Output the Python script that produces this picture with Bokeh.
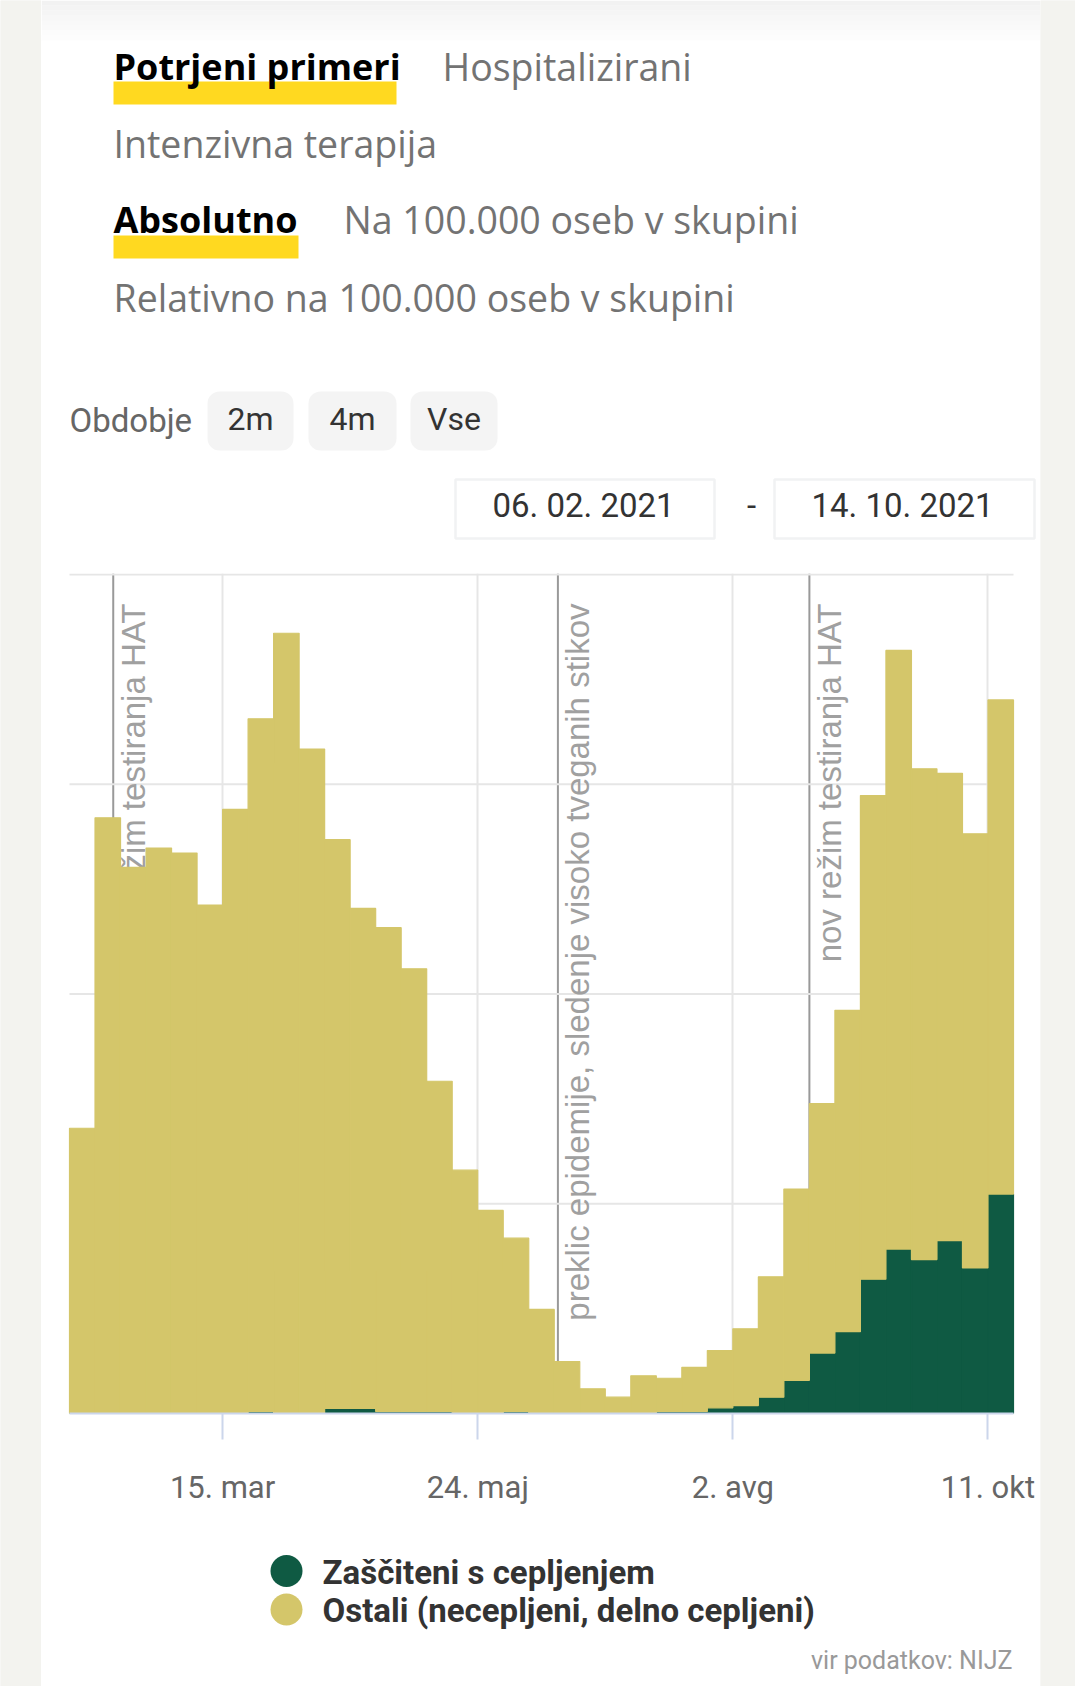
import pandas as pd
from math import pi
from bokeh.plotting import figure
from bokeh.layouts import row, column
from bokeh.models import (Range1d, FixedTicker, CustomJSTickFormatter, Grid, Span,
                          BoxAnnotation, ColumnDataSource)
from bokeh.core.properties import value
from bokeh.embed import file_html
from bokeh.resources import INLINE

# ---------------- data ----------------
week_starts = ["2021-02-01", "2021-02-08", "2021-02-15", "2021-02-22", "2021-03-01",
               "2021-03-08", "2021-03-15", "2021-03-22", "2021-03-29", "2021-04-05",
               "2021-04-12", "2021-04-19", "2021-04-26", "2021-05-03", "2021-05-10",
               "2021-05-17", "2021-05-24", "2021-05-31", "2021-06-07", "2021-06-14",
               "2021-06-21", "2021-06-28", "2021-07-05", "2021-07-12", "2021-07-19",
               "2021-07-26", "2021-08-02", "2021-08-09", "2021-08-16", "2021-08-23",
               "2021-08-30", "2021-09-06", "2021-09-13", "2021-09-20", "2021-09-27",
               "2021-10-04", "2021-10-11"]
zasciteni = [0, 0, 0, 0, 0, 0, 0, 25, 0, 0,
             60, 60, 25, 25, 25, 0, 0, 25, 0, 0,
             0, 0, 0, 25, 25, 68, 95, 195, 395, 720,
             975, 1600, 1960, 1835, 2060, 1735, 2615]
ostali = [3400, 7100, 6510, 6740, 6680, 6060, 7200, 8255, 9300, 7920,
          6780, 5960, 5765, 5275, 3935, 2900, 2420, 2065, 1240, 620,
          295, 195, 450, 395, 525, 682, 915, 1435, 2280, 2975,
          3830, 5765, 7135, 5850, 5570, 5175, 5890]
series_names = ["Zaščiteni s cepljenjem", "Ostali (necepljeni, delno cepljeni)"]

range_start = "2021-02-01"
range_end = "2021-10-18"
tick_dates = ["2021-03-15", "2021-05-24", "2021-08-02", "2021-10-11"]
tick_labels = ["15. mar", "24. maj", "2. avg", "11. okt"]
y_ticks = [0, 2500, 5000, 7500, 10000]
y_top = 10000

event_dates = ["2021-02-13", "2021-06-15", "2021-08-23"]
event_labels = ["nov režim testiranja HAT",
                "preklic epidemije, sledenje visoko tveganih stikov",
                "nov režim testiranja HAT"]

tabs_row1 = ["Potrjeni primeri", "Hospitalizirani"]
tabs_row2 = ["Intenzivna terapija"]
tabs_row3 = ["Absolutno", "Na 100.000 oseb v skupini"]
tabs_row4 = ["Relativno na 100.000 oseb v skupini"]
period_label = "Obdobje"
period_buttons = ["2m", "4m", "Vse"]
date_from = "06. 02. 2021"
date_to = "14. 10. 2021"
source_text = "vir podatkov: NIJZ"

# ---------------- style ----------------
GREEN = "#0f5a43"
YELLOW = "#d4c66a"
TAB_YELLOW = "#ffd920"
PAGE_GRAY = "#f3f3ef"
TAB_GRAY = "#737373"
GRID_GRAY = "#e6e6e6"
HEAD_FONT = value("Open Sans")
UI_FONT = value("Roboto")

DAY = 86400000.0
CARD_W = 999
PAD_L, PAD_R = 28, 27          # white space (px) between card edge and the data area


def ms(s):
    return pd.Timestamp(s).value / 1e6


def page_fig(h, y0):
    f = figure(width=CARD_W, height=h, x_range=Range1d(41, 1040),
               y_range=Range1d(y0 + h, y0),
               toolbar_location=None, output_backend="svg",
               x_axis_location=None, y_axis_location=None, min_border=0)
    f.outline_line_color = None
    f.grid.visible = False
    f.background_fill_color = "white"
    f.border_fill_color = "white"
    return f


# ---------------- header ----------------
head = page_fig(540, 0)
for i in range(8):
    head.add_layout(BoxAnnotation(left=41, right=1040, top=5 * i, bottom=5 * i + 5,
                                  fill_color="#efefef", fill_alpha=0.8 - i * 0.1,
                                  line_color=None, level="underlay"))

head.quad(left=[113, 113], right=[396, 298], top=[81, 235], bottom=[104, 258],
          fill_color=TAB_YELLOW, line_color=None)

head.text(x=[113], y=[65.5], text=[tabs_row1[0]], text_font=HEAD_FONT, text_font_style="bold",
          text_font_size="36px", text_color="#000000", text_baseline="alphabetic")
head.text(x=[442], y=[65.5], text=[tabs_row1[1]], text_font=HEAD_FONT,
          text_font_size="37.5px", text_color=TAB_GRAY, text_baseline="alphabetic")
head.text(x=[113], y=[143], text=[tabs_row2[0]], text_font=HEAD_FONT,
          text_font_size="37.5px", text_color=TAB_GRAY, text_baseline="alphabetic")
head.text(x=[113], y=[219], text=[tabs_row3[0]], text_font=HEAD_FONT, text_font_style="bold",
          text_font_size="36px", text_color="#000000", text_baseline="alphabetic")
head.text(x=[343], y=[219], text=[tabs_row3[1]], text_font=HEAD_FONT,
          text_font_size="37.5px", text_color=TAB_GRAY, text_baseline="alphabetic")
head.text(x=[113], y=[296.5], text=[tabs_row4[0]], text_font=HEAD_FONT,
          text_font_size="37.5px", text_color=TAB_GRAY, text_baseline="alphabetic")

# period buttons
head.text(x=[69], y=[419.5], text=[period_label], text_font=UI_FONT, text_font_size="33px",
          text_color="#666666", text_baseline="alphabetic")
btn_left = [207, 308, 410]
btn_right = [293, 396, 497]
for l, r in zip(btn_left, btn_right):
    head.add_layout(BoxAnnotation(left=l, right=r, top=391, bottom=450, fill_color="#f4f4f4",
                                  fill_alpha=1.0, line_color=None, border_radius=12,
                                  level="underlay"))
head.text(x=[(l + r) / 2 for l, r in zip(btn_left, btn_right)], y=[418] * 3, text=period_buttons,
          text_font=UI_FONT, text_font_size="32px", text_color="#333333",
          text_align="center", text_baseline="alphabetic")

# date boxes
for l, r in [(455, 714), (774, 1034)]:
    head.add_layout(BoxAnnotation(left=l, right=r, top=479, bottom=538, fill_color="white",
                                  fill_alpha=1.0, line_color="#cfd3d7", line_width=2.5,
                                  level="underlay"))
head.text(x=[583, 902], y=[504.5, 504.5], text=[date_from, date_to], text_font=UI_FONT,
          text_font_size="33px", text_color="#333333", text_align="center",
          text_baseline="alphabetic")
head.text(x=[751], y=[504.5], text=["-"], text_font=UI_FONT, text_font_size="33px",
          text_color="#333333", text_align="center", text_baseline="alphabetic")

# ---------------- chart ----------------
mids = [ms(d) + 3.5 * DAY for d in week_starts]
src = ColumnDataSource(dict(x=mids, zasciteni=zasciteni, ostali=ostali))

x0, x1 = ms(range_start), ms(range_end)
px_per_ms = (CARD_W - PAD_L - PAD_R) / (x1 - x0)

p = figure(width=CARD_W, height=990, x_axis_type="datetime",
           x_range=Range1d(x0 - PAD_L / px_per_ms, x1 + PAD_R / px_per_ms),
           y_range=Range1d(0, y_top * 1.0012),
           y_axis_location=None, toolbar_location=None, output_backend="svg",
           min_border_left=0, min_border_right=0,
           min_border_top=33, min_border_bottom=117)
p.outline_line_color = None
p.background_fill_color = "white"
p.border_fill_color = "white"
p.grid.visible = False

tick_ms = [ms(d) for d in tick_dates]
p.add_layout(Grid(dimension=0, ticker=FixedTicker(ticks=tick_ms),
                  grid_line_color=GRID_GRAY, grid_line_width=2))
# horizontal grid lines, limited to the data area
p.segment(x0=[x0] * (len(y_ticks) - 1), x1=[x1] * (len(y_ticks) - 1),
          y0=y_ticks[1:], y1=y_ticks[1:], line_color=GRID_GRAY, line_width=2)

ax = p.xaxis[0]
ax.ticker = FixedTicker(ticks=tick_ms)
ax.bounds = (x0, x1)
ax.formatter = CustomJSTickFormatter(args=dict(tick_vals=tick_ms, tick_names=tick_labels),
                                     code="const i = tick_vals.indexOf(tick); return i < 0 ? '' : tick_names[i];")
ax.axis_line_color = "#ccd6eb"
ax.axis_line_width = 2
ax.major_tick_line_color = "#ccd6eb"
ax.major_tick_line_width = 2
ax.major_tick_out = 26
ax.major_tick_in = 0
ax.minor_tick_out = 0
ax.minor_tick_in = 0
ax.major_label_text_font = "Roboto"
ax.major_label_text_font_size = "31px"
ax.major_label_text_color = "#666666"
ax.major_label_standoff = 29

for d in event_dates:
    p.add_layout(Span(location=ms(d), dimension="height", line_color="#999999",
                      line_width=2, level="underlay"))

p.text(x=[ms(d) for d in event_dates], y=[y_top] * len(event_dates), text=event_labels,
       angle=pi / 2, text_align="right", text_baseline="alphabetic",
       x_offset=20, y_offset=29, text_font=value("Liberation Sans"),
       text_font_size="33px", text_color="#a0a0a0")

p.vbar_stack(["zasciteni", "ostali"], x="x", width=7 * DAY, source=src,
             fill_color=[GREEN, YELLOW], line_color=[GREEN, YELLOW], line_width=1.2)

# ---------------- legend / source ----------------
leg = page_fig(156, 1530)
leg.scatter(x=[286, 286], y=[1570.5, 1609], size=32, marker="circle",
            fill_color=[GREEN, YELLOW], line_color=None)
leg.text(x=[322, 322], y=[1571.5, 1610], text=series_names, text_font=UI_FONT,
         text_font_style="bold", text_font_size="33px", text_color="#333333",
         text_baseline="alphabetic")
leg.text(x=[1012], y=[1660], text=[source_text], text_font=UI_FONT, text_font_size="25px",
         text_color="#999999", text_align="right", text_baseline="alphabetic")


# ---------------- side strips ----------------
def strip(w):
    f = figure(width=w, height=1686, x_range=Range1d(0, 1), y_range=Range1d(0, 1),
               toolbar_location=None, output_backend="svg",
               x_axis_location=None, y_axis_location=None, min_border=0)
    f.outline_line_color = None
    f.grid.visible = False
    f.background_fill_color = PAGE_GRAY
    f.border_fill_color = PAGE_GRAY
    f.quad(left=[0], right=[1], top=[1], bottom=[0], fill_color=PAGE_GRAY, line_color=None)
    return f


layout = row(strip(41), column(head, p, leg), strip(35))

open("out.html", "w").write(file_html(layout, INLINE))
